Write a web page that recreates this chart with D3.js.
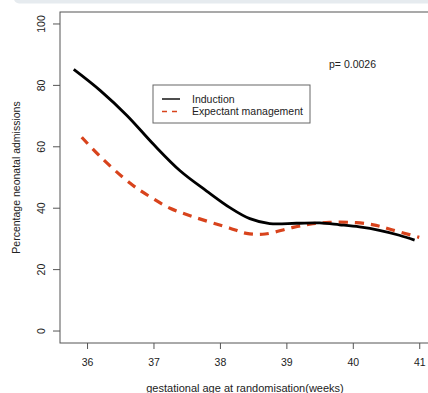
<!DOCTYPE html>
<html>
<head>
<meta charset="utf-8">
<script src="https://cdn.jsdelivr.net/npm/d3@7"></script>
<style>
  body { margin: 0; background: #fff; }
  svg { display: block; font-family: 'Liberation Sans', Arial, sans-serif; }
</style>
</head>
<body>
<svg id="chart" width="428" height="393"></svg>
<script>
// weeks at randomisation and smoothed percentage admitted
const inductionWeeks = [35.8, 36.2, 36.6, 37.0, 37.4, 37.8, 38.15, 38.45, 38.75, 39.15, 39.5, 39.8, 40.1, 40.4, 40.7, 40.93];
const inductionPct   = [85.2, 78.3, 70.2, 60.8, 52.2, 45.6, 40.2, 36.6, 35.0, 35.1, 35.2, 34.6, 33.9, 32.8, 31.2, 29.6];

const expectantWeeks = [35.92, 36.2, 36.65, 36.95, 37.25, 37.6, 38.15, 38.4, 38.68, 39.05, 39.35, 39.65, 40.05, 40.35, 40.6, 41.0];
const expectantPct   = [63.1, 56.8, 48.1, 43.7, 40.0, 37.2, 33.5, 31.8, 31.6, 33.5, 34.8, 35.4, 35.3, 34.4, 32.9, 30.5];

const xTicks = [36, 37, 38, 39, 40, 41];
const yTicks = [0, 20, 40, 60, 80, 100];
const legendLabels = ['Induction', 'Expectant management'];
const pValueLabel = 'p= 0.0026';

const svg = d3.select('#chart');
const box = { left: 60, top: 12, right: 433, bottom: 343 };

const x = d3.scaleLinear().domain([35.593, 41.207]).range([box.left, box.right]);
const y = d3.scaleLinear().domain([-3.9, 103.9]).range([box.bottom, box.top]);

const textColor = '#222';
const redColor = '#d8431c';

// light strip along the top of the screenshot
svg.append('rect')
  .attr('x', 14).attr('y', -6)
  .attr('width', 430).attr('height', 9.5)
  .attr('rx', 5)
  .attr('fill', '#e6ebef');

// plot box
svg.append('rect')
  .attr('x', box.left).attr('y', box.top)
  .attr('width', box.right - box.left).attr('height', box.bottom - box.top)
  .attr('fill', 'none')
  .attr('stroke', '#555')
  .attr('stroke-width', 1);

// y axis
const yAxis = svg.append('g')
  .attr('transform', `translate(${box.left},0)`)
  .call(d3.axisLeft(y).tickValues(yTicks).tickSize(7).tickPadding(0).tickFormat(d3.format('d')));
yAxis.select('.domain').remove();
yAxis.selectAll('line').attr('stroke', '#555');
yAxis.selectAll('text')
  .attr('x', 0).attr('dy', 0)
  .attr('transform', d => `translate(-19,${y(d)}) rotate(-90)`)
  .attr('y', 0)
  .attr('text-anchor', 'middle')
  .attr('dominant-baseline', 'central')
  .attr('font-size', 10.5)
  .attr('font-family', 'Liberation Sans, Arial, sans-serif')
  .attr('fill', textColor);
yAxis.selectAll('.tick').attr('transform', null);
yAxis.selectAll('.tick line')
  .attr('y1', d => y(d)).attr('y2', d => y(d));

// x axis
const xAxis = svg.append('g')
  .attr('transform', `translate(0,${box.bottom})`)
  .call(d3.axisBottom(x).tickValues(xTicks).tickSize(6).tickPadding(10).tickFormat(d3.format('d')));
xAxis.select('.domain').remove();
xAxis.selectAll('line').attr('stroke', '#555');
xAxis.selectAll('text')
  .attr('font-size', 10.5)
  .attr('font-family', 'Liberation Sans, Arial, sans-serif')
  .attr('fill', textColor);

// axis titles
svg.append('text')
  .attr('x', 245).attr('y', 392)
  .attr('text-anchor', 'middle')
  .attr('font-size', 11)
  .attr('fill', textColor)
  .text('gestational age at randomisation(weeks)');

svg.append('text')
  .attr('transform', `translate(20,${(y(0) + y(100)) / 2}) rotate(-90)`)
  .attr('text-anchor', 'middle')
  .attr('font-size', 10.5)
  .attr('fill', textColor)
  .text('Percentage neonatal admissions');

// curves
const plot = svg.append('g');
const line = d3.line()
  .x(d => x(d[0]))
  .y(d => y(d[1]))
  .curve(d3.curveCatmullRom.alpha(0.5));

plot.append('path')
  .datum(d3.zip(expectantWeeks, expectantPct))
  .attr('d', line)
  .attr('fill', 'none')
  .attr('stroke', redColor)
  .attr('stroke-width', 3.2)
  .attr('stroke-dasharray', '9,7');

plot.append('path')
  .datum(d3.zip(inductionWeeks, inductionPct))
  .attr('d', line)
  .attr('fill', 'none')
  .attr('stroke', '#000')
  .attr('stroke-width', 2.8);

// p value
svg.append('text')
  .attr('x', 329).attr('y', 67.5)
  .attr('font-size', 10.5)
  .attr('fill', textColor)
  .text(pValueLabel);

// legend
const legend = svg.append('g').attr('transform', 'translate(153,85)');
legend.append('rect')
  .attr('width', 157).attr('height', 38)
  .attr('fill', '#fff')
  .attr('stroke', '#666');

const legendColors = ['#222', redColor];
const legendDash = [null, '5,5'];
legendLabels.forEach((label, i) => {
  const ly = 14 + i * 12.5;
  legend.append('line')
    .attr('x1', 9).attr('x2', 27)
    .attr('y1', ly).attr('y2', ly)
    .attr('stroke', legendColors[i])
    .attr('stroke-width', 1.6)
    .attr('stroke-dasharray', legendDash[i]);
  legend.append('text')
    .attr('x', 39).attr('y', ly)
    .attr('dy', '0.35em')
    .attr('font-size', 10.5)
    .attr('fill', textColor)
    .text(label);
});
</script>
</body>
</html>
